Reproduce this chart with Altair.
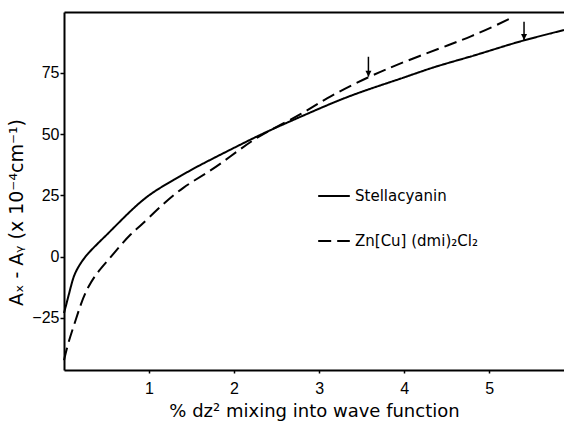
import altair as alt
import pandas as pd

# --- data ---
series_names = ["Stellacyanin", "Zn[Cu] (dmi)\u2082Cl\u2082"]

stella_x = [0, 0.05, 0.09, 0.125, 0.2, 0.28, 0.4, 0.52, 0.77, 1.0, 1.3, 1.56,
            1.95, 2.34, 2.7, 3.01, 3.29, 3.6, 4.0, 4.35, 4.78, 5.1, 5.41, 5.88]
stella_y = [-23, -16.4, -10.9, -6.8, -2.3, 1.3, 5.5, 9.5, 18.3, 25.5, 31.5, 36.7,
            43.5, 50.3, 55.8, 60.5, 64.6, 68.5, 73, 77.4, 81.5, 85, 88.3, 92.4]

zn_x = [0, 0.05, 0.125, 0.2, 0.28, 0.4, 0.52, 0.65, 0.79, 0.89, 1.13, 1.4,
        1.71, 1.95, 2.22, 2.46, 2.81, 3.05, 3.58, 4.0, 4.58, 4.78, 5.05, 5.29]
zn_y = [-42.2, -35, -27.2, -19, -12.3, -6, -1.4, 4, 9.5, 12.2, 20.4, 28.5,
        34.6, 40.7, 47.6, 52.3, 58.4, 64, 73.4, 79.5, 87, 89.7, 93.8, 97.8]

arrow_x = [3.58, 5.41]
arrow_top = [81.5, 95.8]
arrow_tip = [73.4, 88.3]

x_ticks = [1, 2, 3, 4, 5]
y_ticks = [-25, 0, 25, 50, 75]
x_domain = [0, 5.88]
y_domain = [-46.2, 99.75]

df = pd.DataFrame({
    "x": stella_x + zn_x,
    "y": stella_y + zn_y,
    "series": [series_names[0]] * len(stella_x) + [series_names[1]] * len(zn_x),
})
arrows = pd.DataFrame({"x": arrow_x, "top": arrow_top, "tip": arrow_tip})

xscale = alt.Scale(domain=x_domain, nice=False, zero=False)
yscale = alt.Scale(domain=y_domain, nice=False, zero=False)

lines = alt.Chart(df).mark_line(color="black", strokeWidth=2, interpolate="basis").encode(
    x=alt.X("x:Q", scale=xscale,
            axis=alt.Axis(values=x_ticks, title="% dz\u00b2 mixing into wave function",
                          tickSize=3, labelPadding=7, titlePadding=6, titleFontSize=18,
                          labelFlush=False)),
    y=alt.Y("y:Q", scale=yscale,
            axis=alt.Axis(values=y_ticks, title="A\u2093 - A\u1d67 (x 10\u207b\u2074cm\u207b\u00b9)",
                          tickSize=4, labelPadding=1, titlePadding=5, titleFontSize=19,
                          titleY=200)),
    strokeDash=alt.StrokeDash(
        "series:N",
        scale=alt.Scale(domain=series_names, range=[[1, 0], [13, 6]]),
        legend=alt.Legend(orient="none", legendX=253, legendY=167, title=None,
                          labelFont="DejaVu Sans", labelFontSize=15, labelColor="black",
                          symbolType="stroke", symbolSize=1000, symbolStrokeWidth=2,
                          symbolStrokeColor="black", labelOffset=4, rowPadding=20),
    ),
    order="x:Q",
)

top_frame = alt.Chart(arrows).mark_rule(opacity=0).encode(
    x=alt.X("x:Q", scale=xscale,
            axis=alt.Axis(orient="top", labels=False, ticks=False, title=None, grid=False)),
)

arrow_rules = alt.Chart(arrows).mark_rule(color="black", strokeWidth=1.5).encode(
    x=alt.X("x:Q", scale=xscale, axis=None),
    y=alt.Y("top:Q", scale=yscale, axis=None),
    y2="tip:Q",
)
arrow_heads = alt.Chart(arrows).mark_point(
    shape="M-1,-2L1,-2L0,0Z", size=36, filled=True, color="black", opacity=1
).encode(
    x=alt.X("x:Q", scale=xscale, axis=None),
    y=alt.Y("tip:Q", scale=yscale, axis=None),
)

chart = alt.layer(lines, top_frame, arrow_rules, arrow_heads).resolve_axis(
    x="independent", y="independent"
).properties(
    width=500, height=358, autosize="none", background="white",
    padding={"left": 64, "top": 12, "right": 0, "bottom": 51},
).configure_view(stroke=None).configure_axis(
    domainColor="black", domainWidth=2, tickColor="black", tickWidth=1.5,
    labelColor="black", labelFont="Liberation Sans", labelFontSize=16,
    titleFont="DejaVu Sans", titleColor="black", titleFontWeight="normal", grid=False,
)

chart.save("out.html", embed_options={"renderer": "svg", "actions": False})
